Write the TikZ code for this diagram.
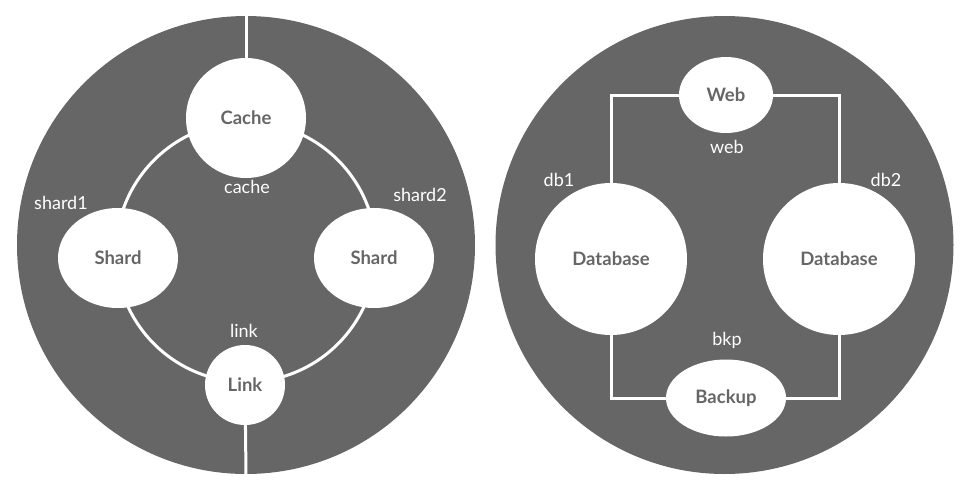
\documentclass[tikz,border=0pt]{standalone}
\usepackage{fontspec}
\setmainfont{Lato}
\usetikzlibrary{shapes.geometric}
\definecolor{dk}{HTML}{666666}
\begin{document}
\begin{tikzpicture}[x=1pt,y=-1pt,
  big/.style={circle, fill=dk, minimum size=458pt, inner sep=0pt},
  wnode/.style={fill=white, text=dk, font=\bfseries\fontsize{18.5}{20}\selectfont, inner sep=0pt},
  el/.style={wnode, ellipse},
  ci/.style={wnode, circle},
  lbl/.style={text=white, font=\fontsize{18}{20}\selectfont, inner sep=0pt},
  wire/.style={draw=white, line width=3pt}]
\useasboundingbox (0,0) rectangle (970,490);
\node[big] (L) at (246,245) {};
\node[big] (R) at (724.5,245) {};
% left
\coordinate (ring) at (246,252);
\draw[wire] (ring) circle[radius=130];
\node[ci, minimum size=120pt] (cache) at (246,118) {Cache};
\node[el, minimum width=120pt, minimum height=100pt] (shard1) at (118,258) {Shard};
\node[el, minimum width=120pt, minimum height=100pt] (shard2) at (374,258) {Shard};
\node[ci, minimum size=80pt] (link) at (245,385) {Link};
\draw[wire] (L.north) -- (cache);
\draw[wire] (link) -- (L.south);
\node[lbl] (lcache) at (247,187) {cache};
\node[lbl] (lshard1) at (61,203) {shard1};
\node[lbl] (lshard2) at (420,195) {shard2};
\node[lbl] (llink) at (244,331) {link};
% right
\node[el, minimum width=94pt, minimum height=76pt] (web) at (726,95) {Web};
\node[ci, minimum size=152pt] (db1) at (611,259) {Database};
\node[ci, minimum size=152pt] (db2) at (839,259) {Database};
\node[el, minimum width=120pt, minimum height=77pt] (bkp) at (726,398) {Backup};
\draw[wire] (db1) |- (web);
\draw[wire] (db2) |- (web);
\draw[wire] (db1) |- (bkp);
\draw[wire] (db2) |- (bkp);
\node[lbl] (lweb) at (727,147) {web};
\node[lbl] (ldb1) at (559,180) {db1};
\node[lbl] (ldb2) at (886,180) {db2};
\node[lbl] (lbkp) at (727,340) {bkp};
\end{tikzpicture}
\end{document}
